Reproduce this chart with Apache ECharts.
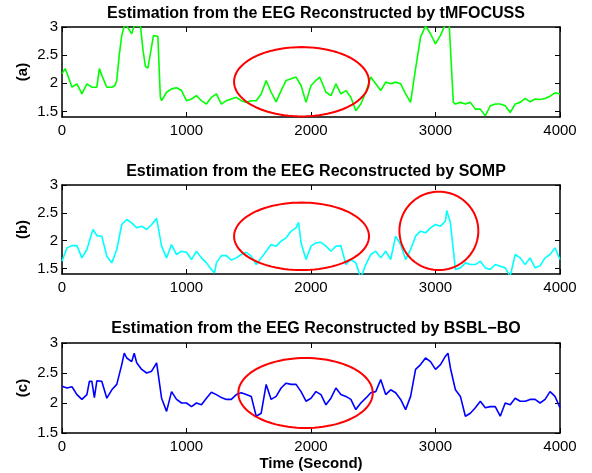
<!DOCTYPE html>
<html><head><meta charset="utf-8">
<script src="https://cdn.jsdelivr.net/npm/echarts@6/dist/echarts.min.js"></script>
<style>html,body{margin:0;padding:0;background:#fff}#c{width:592px;height:473px}</style>
</head><body><div id="c"></div>
<script>
const titles = [
  'Estimation from the EEG Reconstructed by tMFOCUSS',
  'Estimation from the EEG Reconstructed by SOMP',
  'Estimation from the EEG Reconstructed by BSBL\u2212BO'
];
const panelLabels = ['(a)', '(b)', '(c)'];
const xLabel = 'Time (Second)';
const xTicks = [0, 1000, 2000, 3000, 4000];
const yTicks = [1.5, 2, 2.5, 3];
const yMins = [1.4, 1.4, 1.5];
const yMaxs = [3, 3, 3];

const seriesA = [
  [0,2.17],[25,2.26],[45,2.15],[80,1.93],[120,1.99],[160,1.81],[200,1.99],[240,1.93],[280,1.93],
  [300,2.26],[320,2.14],[360,1.93],[400,1.93],[425,1.96],[440,2.05],[460,2.5],[480,2.85],[500,3.02],
  [520,3.02],[560,2.88],[580,3.02],[630,3.02],[650,2.6],[670,2.3],[690,2.27],[735,2.85],[770,2.83],
  [790,1.75],[800,1.69],[840,1.84],[880,1.9],[920,1.92],[960,1.87],[1000,1.69],[1040,1.72],[1080,1.78],
  [1120,1.69],[1160,1.63],[1200,1.75],[1240,1.81],[1280,1.63],[1320,1.69],[1360,1.72],[1400,1.75],
  [1440,1.69],[1480,1.66],[1520,1.69],[1560,1.69],[1600,1.81],[1640,2.05],[1680,1.84],[1720,1.67],
  [1760,1.87],[1800,2.05],[1840,2.08],[1880,2.11],[1920,1.96],[1960,1.66],[2000,1.96],[2040,2.05],
  [2070,2.11],[2120,1.84],[2160,1.78],[2200,1.99],[2240,1.81],[2280,1.87],[2320,1.75],[2360,1.51],
  [2400,1.63],[2440,1.84],[2480,2.11],[2520,1.99],[2560,1.87],[2600,2.02],[2640,1.99],[2680,2.02],
  [2720,1.99],[2760,1.81],[2800,1.66],[2840,2.26],[2880,2.82],[2920,3.02],[2960,2.88],[3000,2.7],
  [3040,2.85],[3080,3.05],[3110,3.05],[3143,1.66],[3160,1.63],[3200,1.66],[3240,1.63],[3280,1.66],
  [3320,1.54],[3360,1.54],[3400,1.42],[3440,1.6],[3480,1.63],[3520,1.63],[3560,1.6],[3600,1.48],
  [3640,1.63],[3680,1.66],[3720,1.73],[3760,1.67],[3800,1.72],[3840,1.71],[3880,1.73],[3920,1.77],
  [3960,1.83],[4000,1.81]
];
const seriesB = [
  [0,1.63],[40,1.87],[80,1.91],[120,1.91],[160,1.69],[200,1.84],[240,2.14],[250,2.2],[280,2.09],
  [320,2.08],[360,1.72],[400,1.6],[440,1.84],[480,2.29],[520,2.38],[560,2.32],[600,2.23],[640,2.26],
  [680,2.2],[720,2.29],[760,2.4],[800,1.9],[840,1.69],[880,1.93],[920,1.75],[960,1.81],[1000,1.79],
  [1040,1.66],[1080,1.81],[1120,1.69],[1160,1.6],[1200,1.48],[1225,1.42],[1240,1.6],[1280,1.73],
  [1320,1.73],[1360,1.65],[1400,1.69],[1440,1.75],[1480,1.79],[1520,1.72],[1560,1.57],[1600,1.69],
  [1640,1.81],[1680,1.93],[1720,1.9],[1760,1.99],[1800,2.05],[1840,2.17],[1880,2.23],[1900,2.33],
  [1920,1.96],[1960,1.66],[2000,1.9],[2040,1.96],[2080,1.97],[2120,1.9],[2160,1.81],[2200,1.9],
  [2240,1.91],[2280,1.57],[2320,1.66],[2360,1.6],[2400,1.33],[2440,1.57],[2480,1.75],[2520,1.81],
  [2560,1.69],[2600,1.81],[2640,1.66],[2680,2.08],[2720,1.93],[2760,1.66],[2800,1.84],[2840,2.08],
  [2880,2.17],[2920,2.14],[2960,2.23],[3000,2.29],[3040,2.26],[3080,2.35],[3090,2.54],[3120,2.32],
  [3160,1.48],[3200,1.51],[3240,1.6],[3280,1.57],[3320,1.57],[3360,1.63],[3400,1.51],[3440,1.48],
  [3480,1.57],[3520,1.54],[3560,1.51],[3600,1.36],[3640,1.75],[3680,1.69],[3720,1.57],[3760,1.69],
  [3800,1.51],[3840,1.55],[3880,1.69],[3920,1.75],[3960,1.87],[4000,1.66]
];
const seriesC = [
  [0,2.28],[40,2.25],[80,2.27],[120,2.14],[160,2.06],[200,2.14],[220,2.36],[240,2.36],[260,2.09],
  [280,2.37],[320,2.36],[360,2.08],[400,2.22],[440,2.31],[480,2.64],[500,2.83],[520,2.75],[560,2.69],
  [580,2.83],[600,2.67],[640,2.56],[680,2.5],[720,2.53],[760,2.67],[800,2.08],[840,1.86],[880,2.19],
  [920,2.06],[960,2.0],[1000,2.0],[1040,1.94],[1080,2.0],[1120,1.97],[1160,2.08],[1200,2.18],
  [1240,2.14],[1280,2.09],[1320,2.06],[1360,2.06],[1400,2.14],[1440,2.17],[1480,2.14],[1520,2.11],
  [1560,1.78],[1600,1.83],[1640,2.31],[1680,2.06],[1720,2.11],[1760,2.25],[1800,2.33],[1840,2.31],
  [1880,2.31],[1920,2.19],[1960,2.03],[2000,2.08],[2040,2.19],[2080,2.14],[2120,1.97],[2160,2.08],
  [2200,2.25],[2240,2.14],[2280,2.11],[2320,2.06],[2360,1.89],[2400,2.0],[2440,2.08],[2480,2.17],
  [2520,2.19],[2560,2.39],[2600,2.14],[2640,2.22],[2680,2.17],[2720,2.06],[2760,1.89],[2800,2.11],
  [2840,2.56],[2880,2.64],[2920,2.75],[2960,2.69],[3000,2.56],[3040,2.64],[3080,2.78],[3100,2.83],
  [3120,2.58],[3160,2.22],[3200,2.11],[3240,1.78],[3280,1.83],[3320,1.92],[3360,2.03],[3400,1.92],
  [3440,1.94],[3480,1.94],[3520,1.78],[3560,2.0],[3600,1.97],[3640,2.08],[3680,2.03],[3720,2.03],
  [3760,2.06],[3800,2.06],[3840,2.0],[3880,2.06],[3920,2.19],[3960,2.11],[4000,1.92]
];
// ellipse annotations: [centerX, centerY, radiusX, radiusY] in data units
const ellipsesA = [[1924, 2.027, 542, 0.616]];
const ellipsesB = [[1924, 2.077, 542, 0.607], [3027, 2.175, 317, 0.705]];
const ellipsesC = [[1956, 2.167, 540, 0.583]];

const lineColors = ['#00ff00', '#00ffff', '#0000ff'];
const allSeries = [seriesA, seriesB, seriesC];
const allEllipses = [ellipsesA, ellipsesB, ellipsesC];

const FONT = 'Liberation Sans, Arial, Helvetica, sans-serif';
const gridTops = [27, 185, 343];
const gridHeights = [90, 89, 90];
const titleTops = [1, 159, 316];

const grids = [], xAxes = [], yAxes = [], series = [], titleOpts = [];
const axisLine = {show: true, onZero: false, lineStyle: {color: '#000', width: 1.5}};
const plainNum = v => String(v);
for (let i = 0; i < 3; i++) {
  grids.push({left: 62, width: 498, top: gridTops[i], height: gridHeights[i], containLabel: false});
  titleOpts.push({text: titles[i], left: 311, top: titleTops[i], textAlign: 'center',
    textStyle: {fontFamily: FONT, fontSize: 16, fontWeight: 'bold', color: '#000'}});
  xAxes.push({type: 'value', gridIndex: i, position: 'bottom', min: 0, max: 4000, interval: 1000,
    axisLine, splitLine: {show: false},
    axisTick: {show: true, inside: true, length: 5, lineStyle: {color: '#000', width: 1}},
    axisLabel: {show: true, margin: 6, formatter: plainNum, fontFamily: FONT, fontSize: 15, color: '#000'},
    name: i === 2 ? xLabel : '', nameLocation: 'middle', nameGap: 23, nameMoveOverlap: false,
    nameTextStyle: {fontFamily: FONT, fontSize: 15, fontWeight: 'bold', color: '#000'}});
  xAxes.push({type: 'value', gridIndex: i, position: 'top', min: 0, max: 4000, interval: 1000,
    axisLine, splitLine: {show: false},
    axisTick: {show: true, inside: true, length: 5, lineStyle: {color: '#000', width: 1}},
    axisLabel: {show: false}});
  yAxes.push({type: 'value', gridIndex: i, position: 'left', min: yMins[i], max: yMaxs[i],
    axisLine, splitLine: {show: false},
    axisTick: {show: true, inside: true, length: 5, customValues: yTicks, lineStyle: {color: '#000', width: 1}},
    axisLabel: {show: true, margin: 4, customValues: yTicks, formatter: plainNum, fontFamily: FONT, fontSize: 15, color: '#000'},
    name: panelLabels[i], nameLocation: 'middle', nameGap: 32, nameMoveOverlap: false,
    nameTextStyle: {fontFamily: FONT, fontSize: 15, fontWeight: 'bold', color: '#000'}});
  yAxes.push({type: 'value', gridIndex: i, position: 'right', min: yMins[i], max: yMaxs[i],
    axisLine, splitLine: {show: false},
    axisTick: {show: true, inside: true, length: 5, customValues: yTicks, lineStyle: {color: '#000', width: 1}},
    axisLabel: {show: false}});
  series.push({type: 'line', xAxisIndex: 2 * i, yAxisIndex: 2 * i, data: allSeries[i],
    showSymbol: false, symbol: 'none', clip: true, animation: false, z: 3,
    lineStyle: {color: lineColors[i], width: 1.6}});
  series.push({type: 'custom', xAxisIndex: 2 * i, yAxisIndex: 2 * i, data: allEllipses[i],
    clip: false, silent: true, animation: false, z: 5,
    renderItem: function (params, api) {
      const c = api.coord([api.value(0), api.value(1)]);
      const s = api.size([api.value(2), api.value(3)]);
      const pts = [];
      for (let k = 0; k < 96; k++) {
        const t = k / 96 * 2 * Math.PI;
        pts.push([c[0] + s[0] * Math.cos(t), c[1] + s[1] * Math.sin(t)]);
      }
      return {type: 'polygon', shape: {points: pts},
        style: {fill: 'none', stroke: '#ff0000', lineWidth: 2}};
    }});
}

const chart = echarts.init(document.getElementById('c'), null, {renderer: 'canvas'});
chart.setOption({
  backgroundColor: '#fff',
  animation: false,
  title: titleOpts,
  grid: grids,
  xAxis: xAxes,
  yAxis: yAxes,
  series: series
});
</script>
</body></html>
